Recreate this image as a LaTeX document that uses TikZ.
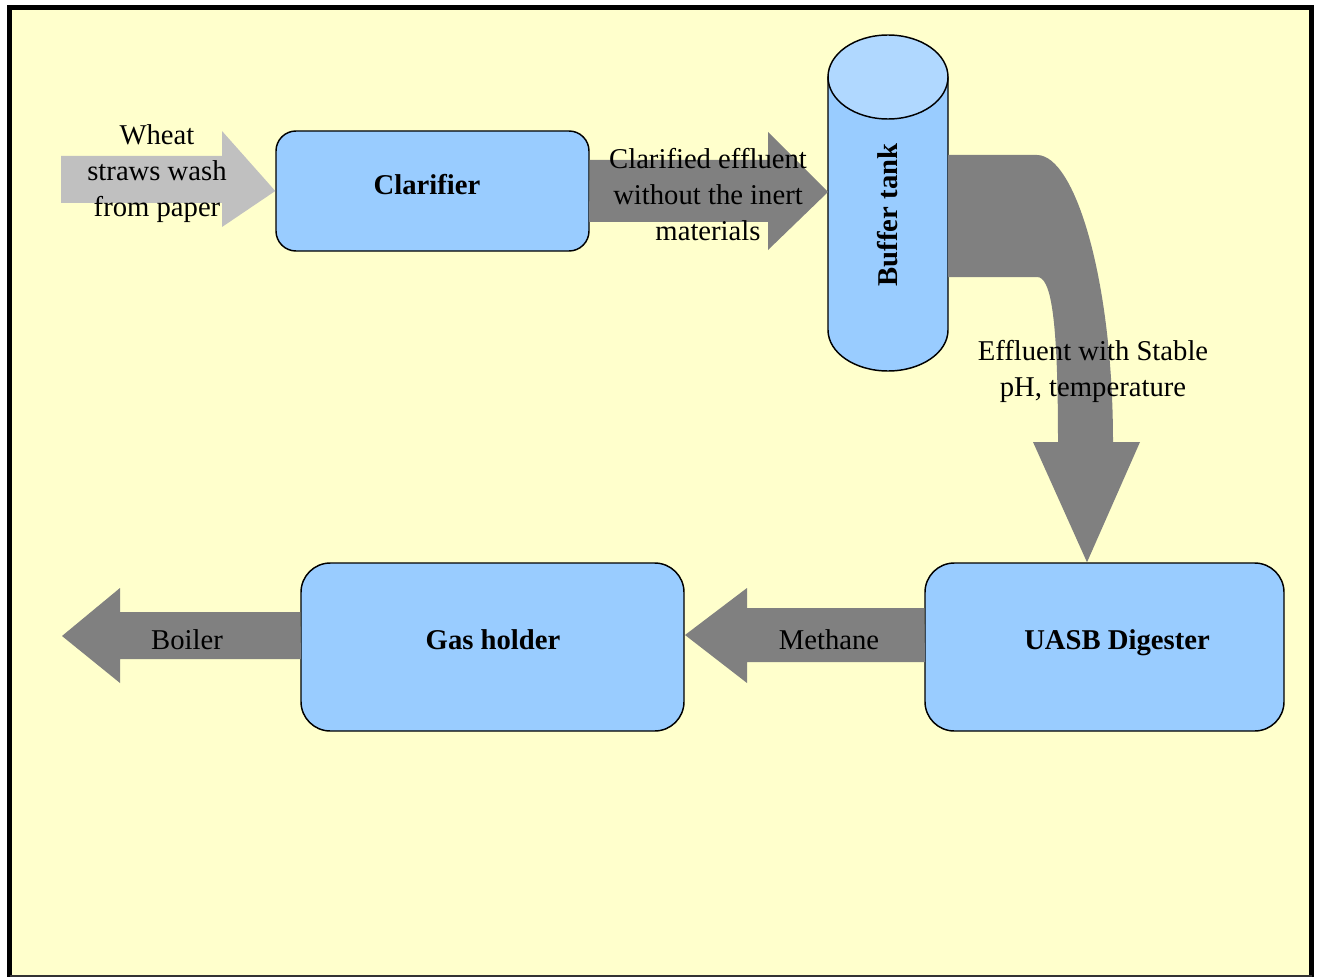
\documentclass[tikz,border=0pt]{standalone}
\usepackage{fontspec}
\setmainfont{Liberation Serif}
\definecolor{bgyellow}{HTML}{FFFFCC}
\definecolor{boxblue}{HTML}{99CCFF}
\definecolor{topblue}{HTML}{B0D8FF}
\definecolor{darkarrow}{HTML}{808080}
\definecolor{lightarrow}{HTML}{C0C0C0}
\begin{document}
\begin{tikzpicture}[x=0.75pt,y=-0.75pt,
  procbox/.style={draw=black, line width=1.1pt, fill=boxblue, inner sep=0pt},
  boxlabel/.style={font=\fontsize{21.5}{27}\selectfont\bfseries, inner sep=0pt, align=center},
  flowlabel/.style={font=\fontsize{21.5}{27}\selectfont, inner sep=0pt, align=center},
  bigarrow/.style={fill=darkarrow, draw=none},
  inarrow/.style={fill=lightarrow, draw=none}]
\useasboundingbox (0,0) rectangle (1321,977);
% frame
\fill[white] (0,0) rectangle (1321,977);
\fill[bgyellow] (9.5,7.5) rectangle (1311.5,977);
\draw[line width=3.75pt] (9.5,977) -- (9.5,7.5) -- (1311.5,7.5) -- (1311.5,977);
\draw[line width=1.1pt, black!80] (9.5,976) -- (1311.5,976);

% boxes
\node[procbox, rounded corners=15pt, minimum width=234.75pt, minimum height=90pt] (clar) at (432.5,191) {};
\node[procbox, rounded corners=22pt, minimum width=287.25pt, minimum height=126pt] (gas) at (492.5,647) {};
\node[procbox, rounded corners=22pt, minimum width=269.25pt, minimum height=126pt] (uasb) at (1104.5,647) {};

% buffer tank cylinder
\draw[line width=1.1pt, fill=boxblue] (828,77) -- (828,330) arc[start angle=180, end angle=360, x radius=45pt, y radius=30.75pt] -- (948,77) -- cycle;
\draw[line width=1.1pt, fill=topblue] (888,77) ellipse [x radius=45pt, y radius=31.5pt];
\node[inner sep=0pt, minimum width=90pt, minimum height=220pt] (buf) at (888,215) {};

% arrows
\coordinate (srcA) at (61,179);
\path[inarrow] (srcA) ++(0,-23) -- (222,156) -- (222,131) -- (clar.west) -- (222,227) -- (222,203) -- (61,203) -- cycle;
\path[bigarrow] (clar.east) ++(0,-31) -- (768,160) -- (768,132) -- (828,192) -- (768,250) -- (768,222) -- (589,222) -- cycle;
\path[bigarrow] (948,155) -- (1037,155) .. controls (1075,155) and (1113,280) .. (1113,442) -- (1140,442) -- (uasb.north -| 1087,0) -- (1033,442) -- (1058,442) .. controls (1058,310) and (1050,277) .. (1037,277) -- (948,277) -- cycle;
\path[bigarrow] (uasb.west) ++(0,-39) -- (747,608) -- (747,588) -- (685,635) -- (747,683) -- (747,662) -- (925,662) -- cycle;
\coordinate (boilertip) at (62,636);
\path[bigarrow] (gas.west) ++(0,-35) -- (120,612) -- (120,588) -- (boilertip) -- (120,683) -- (120,659) -- (301,659) -- cycle;

% labels
\node[boxlabel] at (427,185) {Clarifier};
\node[boxlabel] at (493,640) {Gas holder};
\node[boxlabel] at (1117,643) {UASB Digester};
\node[boxlabel, rotate=90] at (buf.center) {Buffer tank};
\node[flowlabel] (lw) at (157,174) {Wheat\\straws wash\\from paper};
\node[flowlabel] (lc) at (708,195) {Clarified effluent\\without the inert\\materials};
\node[flowlabel] (le) at (1093,371) {Effluent with Stable\\pH, temperature};
\node[flowlabel] (lm) at (829,640) {Methane};
\node[flowlabel] (lb) at (187,640) {Boiler};
\end{tikzpicture}
\end{document}
